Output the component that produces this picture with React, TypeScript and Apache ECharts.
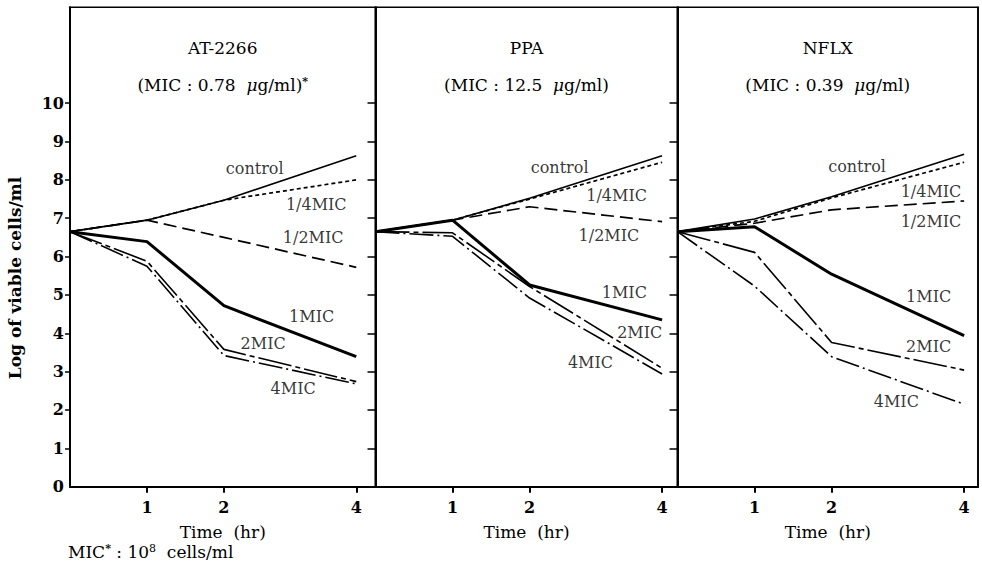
import React, { useEffect, useRef } from "react";
import * as echarts from "echarts";

// Time axis: hours plotted, and the hand-drawn (non-linear) axis slot for each hour
const hours = [0, 1, 2, 4];
const hourSlot = [0, 1, 2, 3.72];

const drugs = ["AT-2266", "PPA", "NFLX"];
const micText = ["0.78", "12.5", "0.39"];
const seriesNames = ["control", "1/4MIC", "1/2MIC", "1MIC", "2MIC", "4MIC"];

// Log of viable cells/ml at 0, 1, 2, 4 hr
const at2266Control = [6.65, 6.95, 7.47, 8.63];
const at2266Quarter = [6.65, 6.95, 7.47, 8.0];
const at2266Half = [6.65, 6.95, 6.5, 5.72];
const at2266One = [6.65, 6.39, 4.72, 3.39];
const at2266Two = [6.65, 5.88, 3.58, 2.74];
const at2266Four = [6.65, 5.75, 3.42, 2.68];

const ppaControl = [6.65, 6.95, 7.52, 8.63];
const ppaQuarter = [6.65, 6.95, 7.5, 8.46];
const ppaHalf = [6.65, 6.95, 7.3, 6.91];
const ppaOne = [6.65, 6.95, 5.26, 4.35];
const ppaTwo = [6.65, 6.62, 5.22, 3.09];
const ppaFour = [6.65, 6.53, 4.92, 2.94];

const nflxControl = [6.65, 6.98, 7.56, 8.67];
const nflxQuarter = [6.65, 6.92, 7.53, 8.46];
const nflxHalf = [6.65, 6.87, 7.22, 7.45];
const nflxOne = [6.65, 6.78, 5.54, 3.94];
const nflxTwo = [6.65, 6.11, 3.76, 3.04];
const nflxFour = [6.65, 5.23, 3.39, 2.15];

const panelValues = [
  [at2266Control, at2266Quarter, at2266Half, at2266One, at2266Two, at2266Four],
  [ppaControl, ppaQuarter, ppaHalf, ppaOne, ppaTwo, ppaFour],
  [nflxControl, nflxQuarter, nflxHalf, nflxOne, nflxTwo, nflxFour],
];

// curve label anchors (axis slot, log value)
const at2266LabelAt = [[2.4, 8.3], [3.2, 7.35], [3.16, 6.5], [3.14, 4.43], [2.51, 3.74], [2.9, 2.57]];
const ppaLabelAt = [[2.39, 8.31], [3.13, 7.58], [3.03, 6.55], [3.23, 5.06], [3.43, 4.02], [2.79, 3.23]];
const nflxLabelAt = [[2.33, 8.34], [3.29, 7.69], [3.29, 6.91], [3.26, 4.95], [3.26, 3.65], [2.84, 2.22]];
const panelLabelAt = [at2266LabelAt, ppaLabelAt, nflxLabelAt];

const yTicks = [0, 1, 2, 3, 4, 5, 6, 7, 8, 9, 10];

const SERIF = "'DejaVu Serif', 'Liberation Serif', serif";
const INK = "#000";

const lineStyles: any[] = [
  { width: 1.6, type: "solid" },
  { width: 1.7, type: [4, 3] },
  { width: 1.7, type: [13, 6] },
  { width: 3, type: "solid" },
  { width: 1.6, type: [34, 4, 5, 4] },
  { width: 1.6, type: [24, 4, 2, 4] },
];

const grids = [
  { left: 70, width: 305.5, max: 3.97 },
  { left: 375.5, width: 302, max: 3.92 },
  { left: 677.5, width: 300.5, max: 3.9 },
];
const gridTop = 7.3;
const gridHeight = 479.4;

export default function App() {
  const ref = useRef<HTMLDivElement>(null);
  useEffect(() => {
    if (!ref.current) return;
    const chart = echarts.init(ref.current, null, { renderer: "svg" });

    const slotLabel = (v: number) => {
      const i = hourSlot.findIndex((s) => Math.abs(s - v) < 1e-6);
      return i >= 0 ? String(hours[i]) : "";
    };

    const gridOpts = grids.map((g) => ({
      left: g.left,
      top: gridTop,
      width: g.width,
      height: gridHeight,
      show: true,
      borderColor: INK,
      borderWidth: 1.6,
      backgroundColor: "transparent",
    }));

    const xAxes = grids.map((g, i) => ({
      type: "value",
      gridIndex: i,
      min: 0,
      max: g.max,
      splitLine: { show: false },
      axisLine: { show: true, onZero: false, lineStyle: { color: INK, width: 2 } },
      axisTick: {
        show: true,
        inside: false,
        length: 6,
        customValues: hourSlot.slice(1),
        lineStyle: { color: INK, width: 2 },
      },
      axisLabel: {
        show: true,
        customValues: hourSlot.slice(1),
        formatter: (v: number) => slotLabel(v),
        margin: 13,
        fontFamily: SERIF,
        fontWeight: "bold",
        fontSize: 16,
        color: INK,
      },
      name: "Time  (hr)",
      nameLocation: "middle",
      nameGap: 37,
      nameTextStyle: { fontFamily: SERIF, fontSize: 17, color: INK },
    }));

    const yAxes: any[] = [];
    grids.forEach((g, i) => {
      yAxes.push({
        type: "value",
        gridIndex: i,
        min: 0,
        max: 12.5,
        position: "left",
        splitLine: { show: false },
        axisLine: { show: true, onZero: false, lineStyle: { color: INK, width: i === 0 ? 2 : 1.6 } },
        axisTick: {
          show: i === 0,
          inside: false,
          length: 5,
          customValues: yTicks.slice(1),
          lineStyle: { color: INK, width: 1.5 },
        },
        axisLabel: {
          show: i === 0,
          customValues: yTicks,
          margin: 6,
          fontFamily: SERIF,
          fontWeight: "bold",
          fontSize: 16,
          color: INK,
        },
      });
      yAxes.push({
        type: "value",
        gridIndex: i,
        min: 0,
        max: 12.5,
        position: "right",
        splitLine: { show: false },
        axisLine: { show: true, onZero: false, lineStyle: { color: INK, width: 1.6 } },
        axisTick: {
          show: i < 2,
          inside: true,
          length: 8,
          customValues: yTicks.slice(1),
          lineStyle: { color: INK, width: 1.5 },
        },
        axisLabel: { show: false },
      });
    });

    const series: any[] = [];
    panelValues.forEach((vals, p) => {
      vals.forEach((arr, k) => {
        series.push({
          type: "line",
          name: drugs[p] + " " + seriesNames[k],
          xAxisIndex: p,
          yAxisIndex: p * 2,
          data: arr.map((v, j) => [hourSlot[j], v]),
          symbol: "none",
          lineStyle: { color: INK, ...lineStyles[k] },
          z: 3,
        });
      });
      series.push({
        type: "scatter",
        xAxisIndex: p,
        yAxisIndex: p * 2,
        symbolSize: 0,
        data: panelLabelAt[p].map((a, k) => ({ value: a, name: seriesNames[k] })),
        label: {
          show: true,
          position: [0, 0],
          align: "center",
          verticalAlign: "middle",
          formatter: (d: any) => d.name,
          fontFamily: SERIF,
          fontSize: 16,
          color: INK,
        },
        itemStyle: { color: "transparent" },
        z: 4,
      });
    });

    const graphic: any[] = [];
    grids.forEach((g, p) => {
      const cx = g.left + g.width / 2;
      graphic.push({
        type: "text",
        x: cx,
        y: 48,
        style: {
          text: drugs[p],
          fontFamily: SERIF,
          fontSize: 17,
          fill: INK,
          align: "center",
          verticalAlign: "middle",
        },
      });
      graphic.push({
        type: "text",
        x: cx,
        y: 85,
        style: {
          text: "(MIC : " + micText[p] + "  {mu|μ}g/ml)" + (p === 0 ? "{sup|*}" : ""),
          fontFamily: SERIF,
          fontSize: 17,
          fill: INK,
          align: "center",
          verticalAlign: "middle",
          rich: {
            mu: { fontFamily: SERIF, fontSize: 17, fontStyle: "italic", fill: INK },
            sup: { fontFamily: SERIF, fontSize: 11, fontWeight: "bold", fill: INK, padding: [0, 0, 8, 0] },
          },
        },
      });
    });
    graphic.push({
      type: "text",
      x: 15,
      y: 278,
      rotation: Math.PI / 2,
      style: {
        text: "Log of viable cells/ml",
        fontFamily: SERIF,
        fontWeight: "bold",
        fontSize: 17,
        fill: INK,
        align: "center",
        verticalAlign: "middle",
      },
    });
    graphic.push({
      type: "text",
      x: 68,
      y: 552,
      style: {
        text: "MIC{star|*} : 10{sup|8}  cells/ml",
        fontFamily: SERIF,
        fontSize: 17,
        fill: INK,
        align: "left",
        verticalAlign: "middle",
        rich: {
          star: { fontFamily: SERIF, fontSize: 11, fontWeight: "bold", fill: INK, padding: [0, 0, 8, 0] },
          sup: { fontFamily: SERIF, fontSize: 11, fill: INK, padding: [0, 0, 8, 0] },
        },
      },
    });

    chart.setOption({
      animation: false,
      backgroundColor: "#fff",
      grid: gridOpts,
      xAxis: xAxes,
      yAxis: yAxes,
      series,
      graphic,
    });
    return () => chart.dispose();
  }, []);

  return (
    <div
      ref={ref}
      style={{ position: "fixed", left: 0, top: 0, width: 982, height: 564 }}
    />
  );
}
